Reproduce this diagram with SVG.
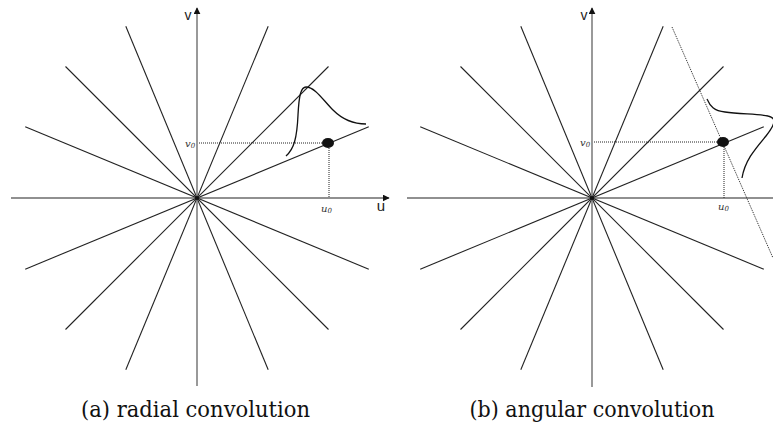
<svg xmlns="http://www.w3.org/2000/svg" width="773" height="427" viewBox="0 0 773 427">
<style>
.ray{stroke:#222;stroke-width:1.1;fill:none}
.axis{stroke:#555;stroke-width:1.2;fill:none}
.dot{stroke:#222;stroke-width:1;stroke-dasharray:1 1;fill:none}
.curve{stroke:#111;stroke-width:1.3;fill:none}
.lab{fill:#222;font-family:'Liberation Sans',Arial,sans-serif}
.sub{font-style:italic;font-size:10px;fill:#333;font-family:'DejaVu Serif',serif}
.cap{font-size:23px;fill:#111;font-family:'DejaVu Serif',serif}
</style>
<defs>
<marker id="arr" viewBox="0 0 10 10" refX="9" refY="5" markerWidth="7" markerHeight="7" markerUnits="userSpaceOnUse" orient="auto">
<path d="M0,0 L10,5 L0,10 z" fill="#111"/>
</marker>
</defs>
<rect width="773" height="427" fill="#fff"/>

<g id="panel-a">
<g id="rays-a">
<line class="ray" x1="368.8" y1="126.8" x2="25.2" y2="269.2"/>
<line class="ray" x1="328.5" y1="66.5" x2="65.5" y2="329.5"/>
<line class="ray" x1="268.2" y1="26.2" x2="125.8" y2="369.8"/>
<line class="ray" x1="125.8" y1="26.2" x2="268.2" y2="369.8"/>
<line class="ray" x1="65.5" y1="66.5" x2="328.5" y2="329.5"/>
<line class="ray" x1="25.2" y1="126.8" x2="368.8" y2="269.2"/>
</g>
<g id="axes-a">
<line class="ray" x1="11" y1="198" x2="389" y2="198" marker-end="url(#arr)"/>
<line class="axis" x1="197" y1="386" x2="197" y2="8" marker-end="url(#arr)"/>
<circle cx="197" cy="198" r="2" fill="#111"/>
</g>
<g id="guides-a">
<line class="dot" x1="199" y1="143" x2="322" y2="143"/>
<line class="dot" x1="329" y1="148" x2="329" y2="198"/>
</g>
<path id="gauss-a" class="curve" d="M286,156 C294,149 297,138 298,115 C299,95 301,87 306,87 C315,87 323,100 333,110 C342,119 352,124 366,124"/>
<ellipse id="point-a" cx="328" cy="143" rx="6" ry="5" fill="#111"/>
<text class="lab" x="188" y="20" font-size="14" text-anchor="middle">v</text>
<text class="lab" x="381" y="211" font-size="15" text-anchor="middle">u</text>
<text class="sub" x="185" y="147">v<tspan font-size="7" dy="1">0</tspan></text>
<text class="sub" x="321" y="212">u<tspan font-size="7" dy="1">0</tspan></text>
<text class="cap" x="195.5" y="417" text-anchor="middle" textLength="229" lengthAdjust="spacingAndGlyphs">(a) radial convolution</text>
</g>

<g id="panel-b">
<g id="rays-b">
<line class="ray" x1="763.8" y1="126.8" x2="420.2" y2="269.2"/>
<line class="ray" x1="723.5" y1="66.5" x2="460.5" y2="329.5"/>
<line class="ray" x1="663.2" y1="26.2" x2="520.8" y2="369.8"/>
<line class="ray" x1="520.8" y1="26.2" x2="663.2" y2="369.8"/>
<line class="ray" x1="460.5" y1="66.5" x2="723.5" y2="329.5"/>
<line class="ray" x1="420.2" y1="126.8" x2="763.8" y2="269.2"/>
</g>
<g id="axes-b">
<line class="ray" x1="407" y1="198" x2="773" y2="198"/>
<line class="axis" x1="592" y1="387" x2="592" y2="8" marker-end="url(#arr)"/>
<circle cx="592" cy="198" r="2" fill="#111"/>
</g>
<g id="guides-b">
<line class="dot" x1="594" y1="142" x2="717" y2="142"/>
<line class="dot" x1="724" y1="147" x2="724" y2="198"/>
<line class="dot" x1="672" y1="27" x2="773" y2="258"/>
</g>
<path id="gauss-b" class="curve" d="M707,99 C710,106 714,111 725,112 C740,114 760,114 768,116 C778,118 774,126 766,136 C756,148 745,160 742,178"/>
<ellipse id="point-b" cx="723" cy="142" rx="6" ry="5" fill="#111"/>
<text class="lab" x="584" y="20" font-size="14" text-anchor="middle">v</text>
<text class="sub" x="580" y="146">v<tspan font-size="7" dy="1">0</tspan></text>
<text class="sub" x="718" y="210">u<tspan font-size="7" dy="1">0</tspan></text>
<text class="cap" x="592" y="417" text-anchor="middle" textLength="245" lengthAdjust="spacingAndGlyphs">(b) angular convolution</text>
</g>
</svg>
